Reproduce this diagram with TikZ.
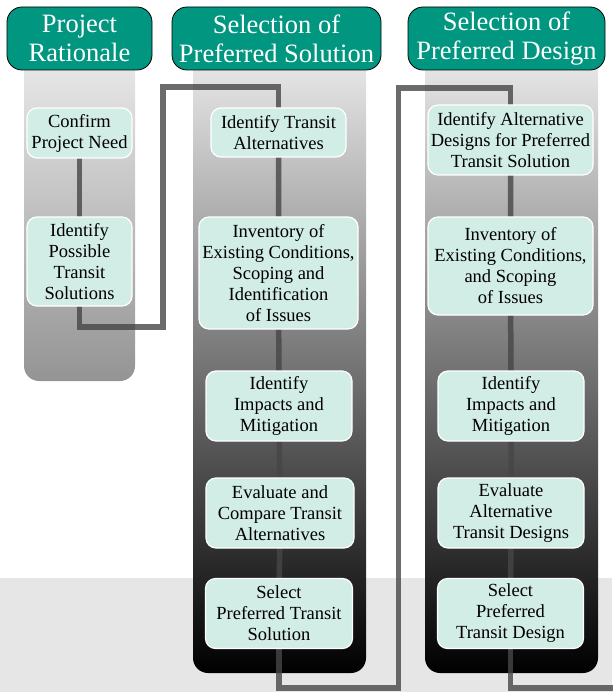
\documentclass[tikz,border=0pt]{standalone}
\usepackage{fontspec}
\setmainfont{Liberation Serif}
\newfontfamily\diagfont{Liberation Serif}
\pgfdeclarelayer{cols}
\pgfdeclarelayer{wires}
\pgfsetlayers{cols,wires,main}
\definecolor{tealhdr}{RGB}{0,150,128}
\definecolor{mint}{RGB}{210,236,230}
\definecolor{bandgray}{RGB}{230,230,230}
\definecolor{wire}{RGB}{70,70,70}
\begin{document}
\begin{tikzpicture}[x=1pt,y=-1pt,
 hdr/.style={draw=black, line width=0.8pt, fill=tealhdr, rounded corners=15pt, text=white, align=center, font={\diagfont\fontsize{26.5}{29}\selectfont}, inner sep=0pt},
 stepbox/.style={draw=white, line width=1.2pt, fill=mint, rounded corners=10pt, align=center, font={\diagfont\fontsize{18.5}{21}\selectfont}, inner sep=0pt},
 wireline/.style={draw=wire, line width=5.5pt, draw opacity=0.8, line join=miter},
]
\useasboundingbox (0,0) rectangle (612,692);

% headers
\node[hdr, minimum width=145pt, minimum height=63pt] (h1) at (79.5,38.5) {Project\\Rationale};
\node[hdr, minimum width=209pt, minimum height=63pt] (h2) at (276.5,38.5) {Selection of\\Preferred Solution};
\node[hdr, minimum width=197pt, minimum height=63pt] (h3) at (506.5,38.5) {Selection of\\Preferred Design};

% column 1
\node[stepbox, minimum width=105pt, minimum height=50pt] (c1a) at (79.5,133) {Confirm\\Project Need};
\node[stepbox, minimum width=105pt, minimum height=89pt] (c1b) at (79.5,261.5) {Identify\\Possible\\Transit\\Solutions};
% column 2
\node[stepbox, minimum width=135pt, minimum height=49pt] (c2a) at (278.5,132.5) {Identify Transit\\Alternatives};
\node[stepbox, minimum width=159pt, minimum height=112pt] (c2b) at (278.5,273) {Inventory of\\Existing Conditions,\\Scoping and\\Identification\\of Issues};
\node[stepbox, minimum width=146pt, minimum height=70pt] (c2c) at (279,406) {Identify\\Impacts and\\Mitigation};
\node[stepbox, minimum width=148pt, minimum height=70pt] (c2d) at (280,513) {Evaluate and\\Compare Transit\\Alternatives};
\node[stepbox, minimum width=147pt, minimum height=70pt] (c2e) at (279,613.5) {Select\\Preferred Transit\\Solution};
% column 3
\node[stepbox, minimum width=165pt, minimum height=70pt] (c3a) at (510.5,140) {Identify Alternative\\Designs for Preferred\\Transit Solution};
\node[stepbox, minimum width=165pt, minimum height=98pt] (c3b) at (510.5,266) {Inventory of\\Existing Conditions,\\and Scoping\\of Issues};
\node[stepbox, minimum width=146pt, minimum height=70pt] (c3c) at (511,406) {Identify\\Impacts and\\Mitigation};
\node[stepbox, minimum width=146pt, minimum height=70pt] (c3d) at (511,513) {Evaluate\\Alternative\\Transit Designs};
\node[stepbox, minimum width=146pt, minimum height=70pt] (c3e) at (510.5,613.5) {Select\\Preferred\\Transit Design};

\begin{pgfonlayer}{cols}
  \fill[bandgray] (0,578) rectangle (612,692);
  \shade[top color=black!7, bottom color=black!42, rounded corners=15pt] (24,40) rectangle (135,381);
  \shade[top color=black!6, middle color=black!35, bottom color=black, rounded corners=15pt] (193,40) rectangle (366,673);
  \shade[top color=black!6, middle color=black!35, bottom color=black, rounded corners=15pt] (425,40) rectangle (598,673);
\end{pgfonlayer}

\begin{pgfonlayer}{wires}
  \coordinate (k1) at (163,327);
  \coordinate (k2) at (163,87);
  \coordinate (k3) at (398.5,688);
  \coordinate (k4) at (398.5,88);
  \coordinate (kend) at (616,688);
  \draw[wireline] (c1a.center) -- (c1b.center);
  \draw[wireline] (c1b.center) |- (k1) -- (k2) -| (c2a.center);
  \draw[wireline] (c2a.center) -- (c2b.center) -- (c2c.center) -- (c2d.center) -- (c2e.center);
  \draw[wireline] (c2e.center) |- (k3) -- (k4) -| (c3a.center);
  \draw[wireline] (c3a.center) -- (c3b.center) -- (c3c.center) -- (c3d.center) -- (c3e.center);
  \draw[wireline] (c3e.center) |- (kend);
\end{pgfonlayer}
\end{tikzpicture}
\end{document}
